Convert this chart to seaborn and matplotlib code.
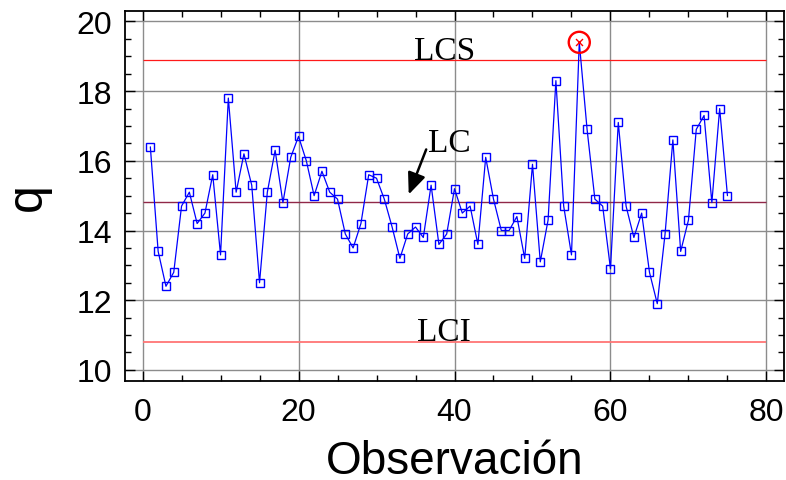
import numpy as np
import pandas as pd
import matplotlib
matplotlib.use("Agg")
import matplotlib.pyplot as plt
from matplotlib.ticker import MultipleLocator
import seaborn as sns

# ---- data ----
observacion = list(range(1, 76))
q = [16.4, 13.4, 12.4, 12.8, 14.7, 15.1, 14.2, 14.5, 15.6, 13.3,
     17.8, 15.1, 16.2, 15.3, 12.5, 15.1, 16.3, 14.8, 16.1, 16.7,
     16.0, 15.0, 15.7, 15.1, 14.9, 13.9, 13.5, 14.2, 15.6, 15.5,
     14.9, 14.1, 13.2, 13.9, 14.1, 13.8, 15.3, 13.6, 13.9, 15.2,
     14.5, 14.7, 13.6, 16.1, 14.9, 14.0, 14.0, 14.4, 13.2, 15.9,
     13.1, 14.3, 18.3, 14.7, 13.3, 19.4, 16.9, 14.9, 14.7, 12.9,
     17.1, 14.7, 13.8, 14.5, 12.8, 11.9, 13.9, 16.6, 13.4, 14.3,
     16.9, 17.3, 14.8, 17.5, 15.0]
lcs = 18.88
lc = 14.83
lci = 10.79
limit_labels = ["LCS", "LC", "LCI"]
out_of_control = [56]

df = pd.DataFrame({"Observación": observacion, "q": q})
ooc = df[df["Observación"].isin(out_of_control)]

sns.set_style("ticks")
plt.rcParams["font.family"] = ["Liberation Sans", "DejaVu Sans"]
plt.rcParams["text.color"] = "black"
plt.rcParams["axes.labelcolor"] = "black"
plt.rcParams["xtick.color"] = "black"
plt.rcParams["ytick.color"] = "black"

fig = plt.figure(figsize=(7.86, 4.81), dpi=100)
ax = fig.add_axes([125 / 786, 1 - 381.7 / 481, 659 / 786, 369.4 / 481])

# grid
ax.set_axisbelow(True)
ax.grid(True, which="major", color="#8c8c8c", linewidth=1.0)

# control limits
ax.hlines(lcs, 0, 80, color="#ff1a1a", linewidth=0.9, zorder=2)
ax.hlines(lc, 0, 80, color="#902848", linewidth=1.0, zorder=2)
ax.hlines(lci, 0, 80, color="#ff7575", linewidth=1.3, zorder=2)

# series
idx_marks = [i for i, o in enumerate(observacion) if o not in out_of_control]
sns.lineplot(data=df, x="Observación", y="q", ax=ax, color="#0000ff",
             linewidth=0.9, marker="s", markersize=5.5, markerfacecolor="none",
             markeredgecolor="#0000ff", markeredgewidth=1.0,
             markevery=idx_marks, zorder=3)

# out of control point
sns.scatterplot(data=ooc, x="Observación", y="q", ax=ax, marker="x",
                color="#ff0000", s=25, linewidth=1.0, zorder=4)
sns.scatterplot(data=ooc, x="Observación", y="q", ax=ax, marker="o",
                facecolor="none", edgecolor="#ff0000", s=230, linewidth=1.7,
                zorder=4)

# text annotations
serif = ["Liberation Serif", "DejaVu Serif"]
ax.text(38.7, lcs + 0.05, limit_labels[0], family=serif, fontsize=24,
        ha="center", va="baseline")
ax.text(36.6, 16.29, limit_labels[1], family=serif, fontsize=24,
        ha="left", va="baseline")
ax.text(38.6, lci + 0.06, limit_labels[2], family=serif, fontsize=24,
        ha="center", va="baseline")
ax.annotate("", xy=(34.0, 14.96), xytext=(36.5, 16.40),
            arrowprops=dict(arrowstyle="-|>,head_length=1.3,head_width=0.55",
                            color="black", lw=1.8))

# axes
ax.set_xlim(-2.25, 82.25)
ax.set_ylim(9.69, 20.29)
ax.xaxis.set_major_locator(MultipleLocator(20))
ax.xaxis.set_minor_locator(MultipleLocator(5))
ax.yaxis.set_major_locator(MultipleLocator(2))
ax.yaxis.set_minor_locator(MultipleLocator(0.5))
ax.tick_params(which="both", direction="in", top=True, right=True,
               color="black", width=1.0)
ax.tick_params(which="major", length=7)
ax.tick_params(which="minor", length=4)
ax.tick_params(axis="x", which="major", labelsize=23, pad=12)
ax.tick_params(axis="y", which="major", labelsize=23, pad=9)
for sp in ax.spines.values():
    sp.set_visible(True)
    sp.set_color("black")
    sp.set_linewidth(1.3)

ax.set_xlabel("Observación", fontsize=33)
ax.set_ylabel("q", fontsize=36)
ax.xaxis.set_label_coords(0.5, -0.25)
ax.xaxis.label.set_va("baseline")
ax.yaxis.set_label_coords(-0.148, 0.5)
ax.yaxis.label.set_va("center")

fig.savefig("out.png", dpi=100)
